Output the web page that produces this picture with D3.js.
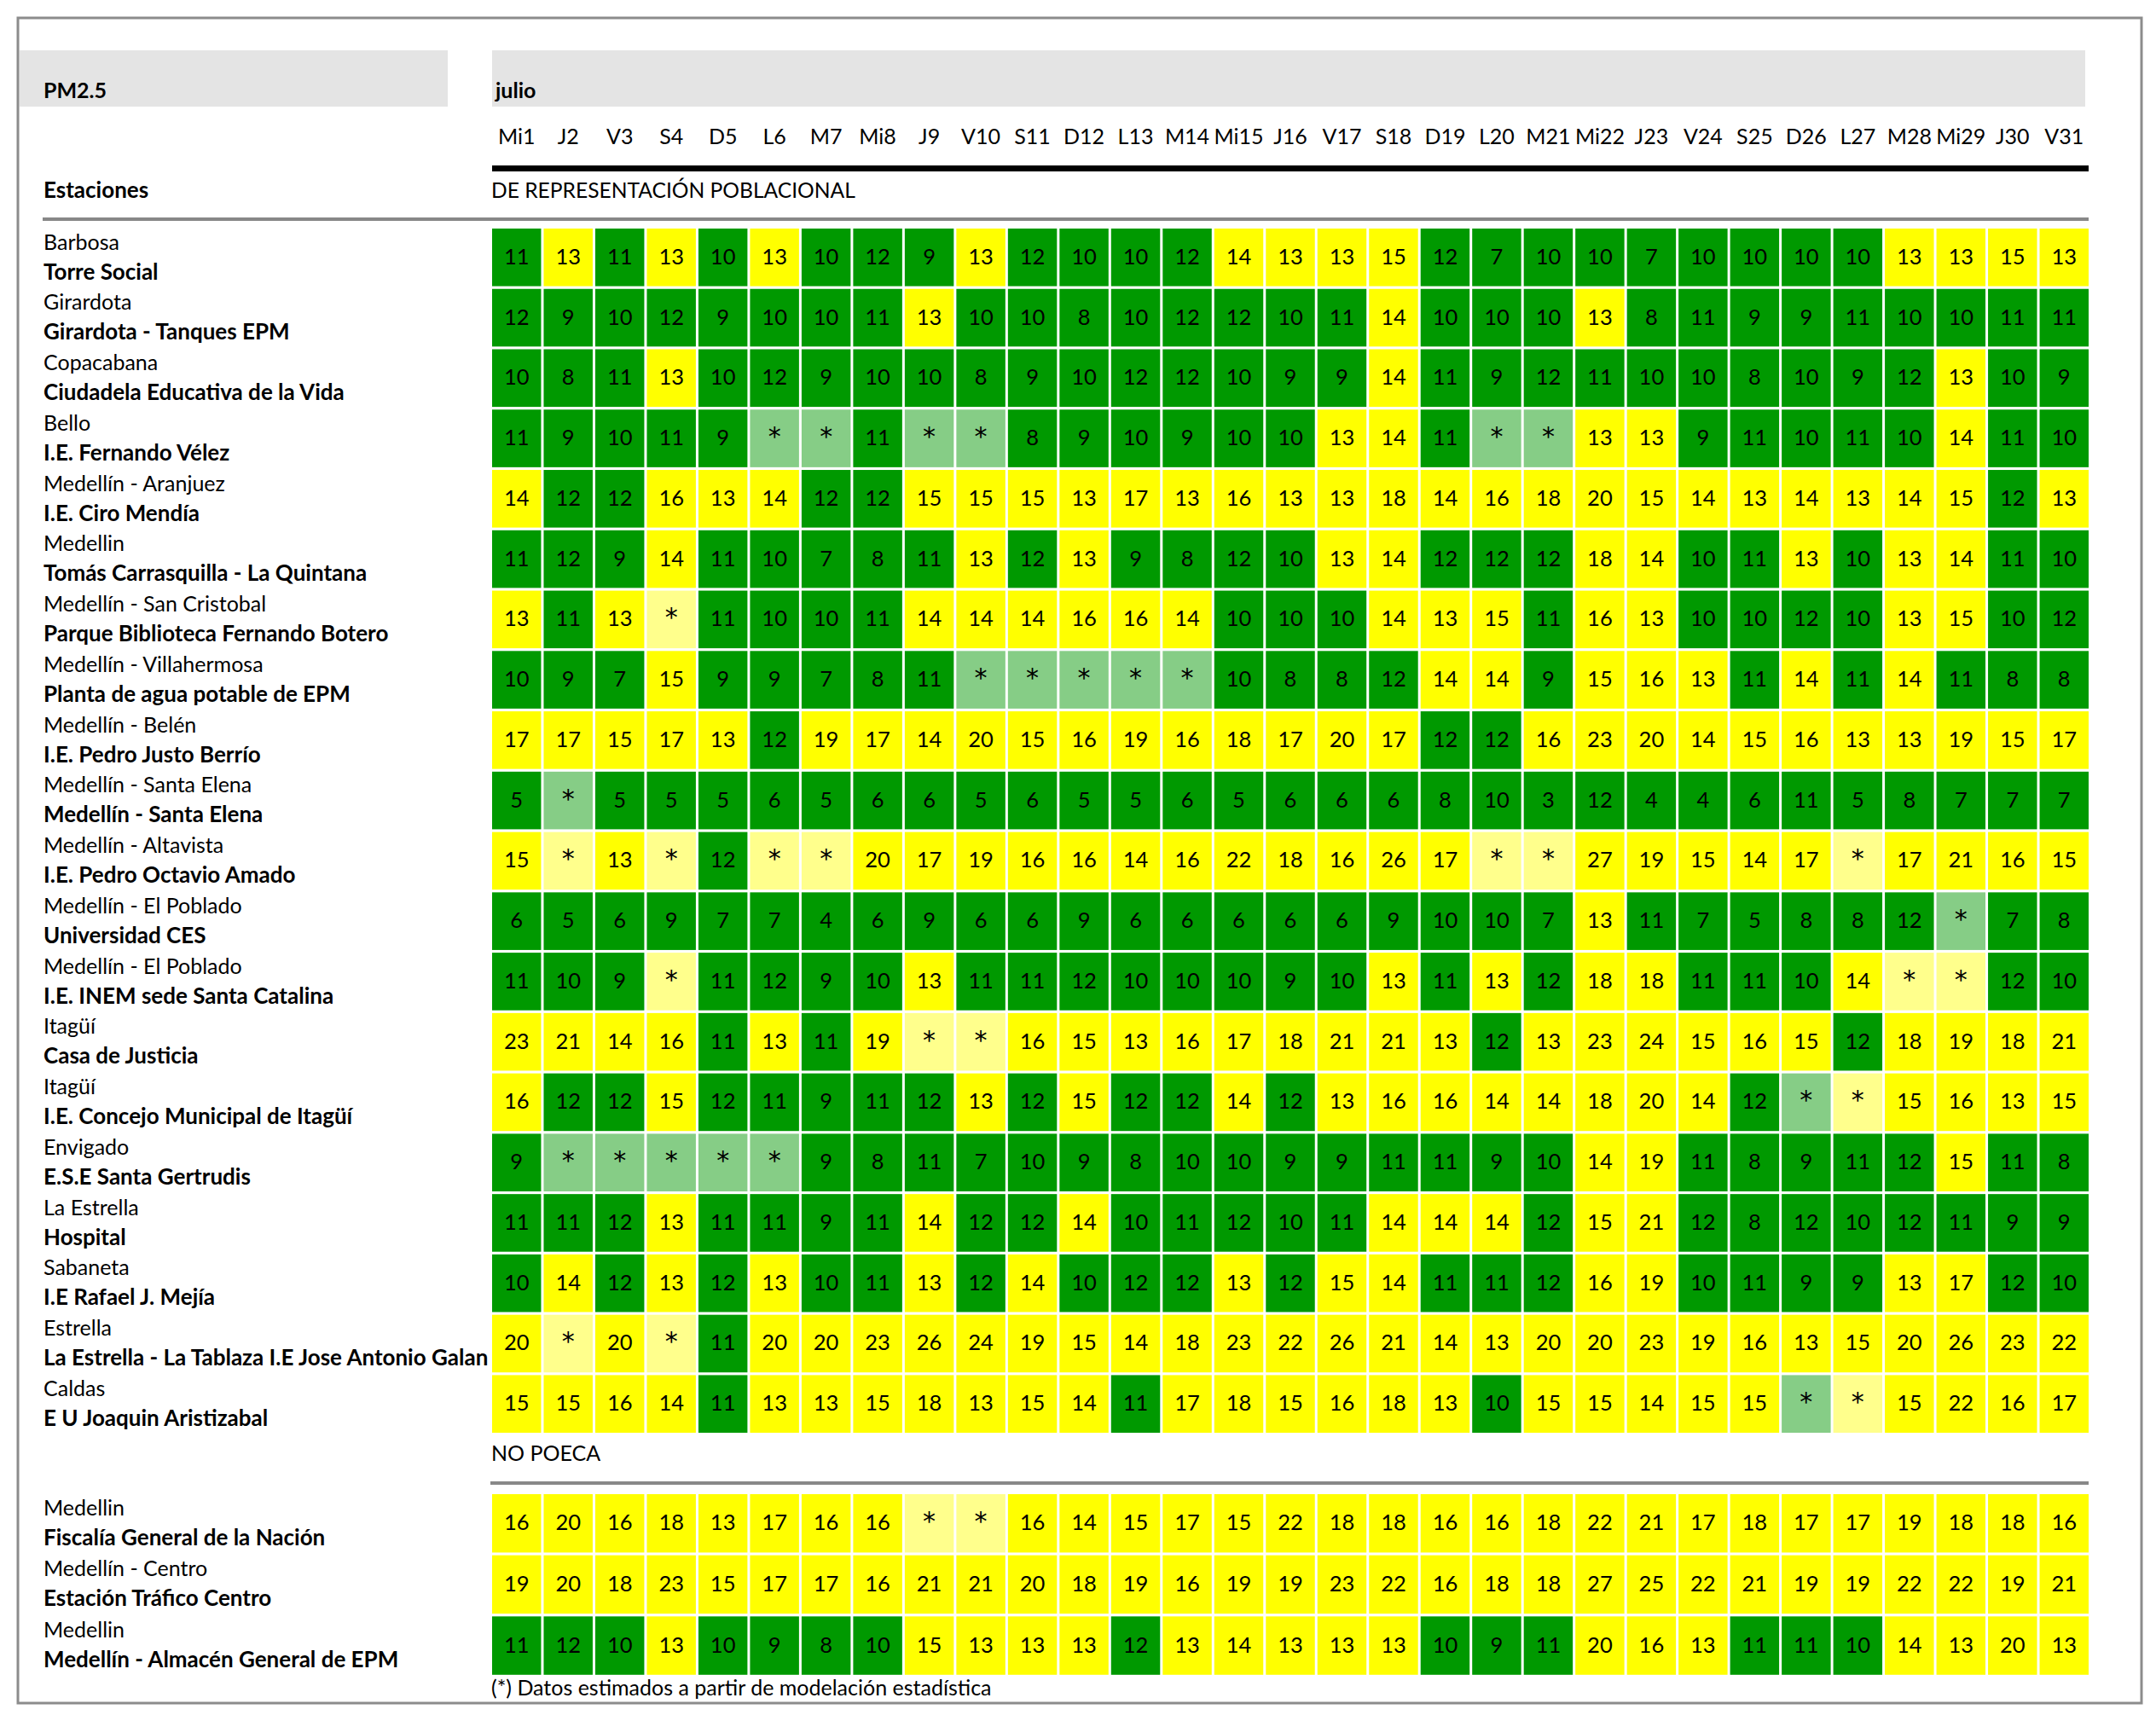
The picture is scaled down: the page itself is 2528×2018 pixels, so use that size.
<!DOCTYPE html>
<html lang="es">
<head>
<meta charset="UTF-8" />
<script src="https://cdn.jsdelivr.net/npm/d3@7/dist/d3.min.js"></script>
<title>PM2.5 julio</title>
<style>
  body { margin: 0; background: #fff; }
  text { font-family: Lato, "Noto Sans", sans-serif; fill: #000; }
</style>
</head>
<body>
<svg width="2528" height="2018"></svg>
<script>
  const days = ["Mi1","J2","V3","S4","D5","L6","M7","Mi8","J9","V10","S11","D12","L13","M14","Mi15","J16",
    "V17","S18","D19","L20","M21","Mi22","J23","V24","S25","D26","L27","M28","Mi29","J30","V31"];

  // estaciones de representacion poblacional
  const municipios = ["Barbosa","Girardota","Copacabana","Bello","Medellín - Aranjuez","Medellin",
    "Medellín - San Cristobal","Medellín - Villahermosa","Medellín - Belén","Medellín - Santa Elena",
    "Medellín - Altavista","Medellín - El Poblado","Medellín - El Poblado","Itagüí","Itagüí","Envigado",
    "La Estrella","Sabaneta","Estrella","Caldas"];
  const estaciones = ["Torre Social","Girardota - Tanques EPM","Ciudadela Educativa de la Vida",
    "I.E. Fernando Vélez","I.E. Ciro Mendía","Tomás Carrasquilla - La Quintana",
    "Parque Biblioteca Fernando Botero","Planta de agua potable de EPM","I.E. Pedro Justo Berrío",
    "Medellín - Santa Elena","I.E. Pedro Octavio Amado","Universidad CES","I.E. INEM sede Santa Catalina",
    "Casa de Justicia","I.E. Concejo Municipal de Itagüí","E.S.E Santa Gertrudis","Hospital",
    "I.E Rafael J. Mejía","La Estrella - La Tablaza I.E Jose Antonio Galan","E U Joaquin Aristizabal"];

  // "*v" = estimado (verde), "*a" = estimado (amarillo)
  const poblacional = [
    [11,13,11,13,10,13,10,12,9,13,12,10,10,12,14,13,13,15,12,7,10,10,7,10,10,10,10,13,13,15,13],
    [12,9,10,12,9,10,10,11,13,10,10,8,10,12,12,10,11,14,10,10,10,13,8,11,9,9,11,10,10,11,11],
    [10,8,11,13,10,12,9,10,10,8,9,10,12,12,10,9,9,14,11,9,12,11,10,10,8,10,9,12,13,10,9],
    [11,9,10,11,9,"*v","*v",11,"*v","*v",8,9,10,9,10,10,13,14,11,"*v","*v",13,13,9,11,10,11,10,14,11,10],
    [14,12,12,16,13,14,12,12,15,15,15,13,17,13,16,13,13,18,14,16,18,20,15,14,13,14,13,14,15,12,13],
    [11,12,9,14,11,10,7,8,11,13,12,13,9,8,12,10,13,14,12,12,12,18,14,10,11,13,10,13,14,11,10],
    [13,11,13,"*a",11,10,10,11,14,14,14,16,16,14,10,10,10,14,13,15,11,16,13,10,10,12,10,13,15,10,12],
    [10,9,7,15,9,9,7,8,11,"*v","*v","*v","*v","*v",10,8,8,12,14,14,9,15,16,13,11,14,11,14,11,8,8],
    [17,17,15,17,13,12,19,17,14,20,15,16,19,16,18,17,20,17,12,12,16,23,20,14,15,16,13,13,19,15,17],
    [5,"*v",5,5,5,6,5,6,6,5,6,5,5,6,5,6,6,6,8,10,3,12,4,4,6,11,5,8,7,7,7],
    [15,"*a",13,"*a",12,"*a","*a",20,17,19,16,16,14,16,22,18,16,26,17,"*a","*a",27,19,15,14,17,"*a",17,21,16,15],
    [6,5,6,9,7,7,4,6,9,6,6,9,6,6,6,6,6,9,10,10,7,13,11,7,5,8,8,12,"*v",7,8],
    [11,10,9,"*a",11,12,9,10,13,11,11,12,10,10,10,9,10,13,11,13,12,18,18,11,11,10,14,"*a","*a",12,10],
    [23,21,14,16,11,13,11,19,"*a","*a",16,15,13,16,17,18,21,21,13,12,13,23,24,15,16,15,12,18,19,18,21],
    [16,12,12,15,12,11,9,11,12,13,12,15,12,12,14,12,13,16,16,14,14,18,20,14,12,"*v","*a",15,16,13,15],
    [9,"*v","*v","*v","*v","*v",9,8,11,7,10,9,8,10,10,9,9,11,11,9,10,14,19,11,8,9,11,12,15,11,8],
    [11,11,12,13,11,11,9,11,14,12,12,14,10,11,12,10,11,14,14,14,12,15,21,12,8,12,10,12,11,9,9],
    [10,14,12,13,12,13,10,11,13,12,14,10,12,12,13,12,15,14,11,11,12,16,19,10,11,9,9,13,17,12,10],
    [20,"*a",20,"*a",11,20,20,23,26,24,19,15,14,18,23,22,26,21,14,13,20,20,23,19,16,13,15,20,26,23,22],
    [15,15,16,14,11,13,13,15,18,13,15,14,11,17,18,15,16,18,13,10,15,15,14,15,15,"*v","*a",15,22,16,17]
  ];

  // estaciones no POECA
  const municipios2 = ["Medellin","Medellín - Centro","Medellin"];
  const estaciones2 = ["Fiscalía General de la Nación","Estación Tráfico Centro","Medellín - Almacén General de EPM"];
  const noPoeca = [
    [16,20,16,18,13,17,16,16,"*a","*a",16,14,15,17,15,22,18,18,16,16,18,22,21,17,18,17,17,19,18,18,16],
    [19,20,18,23,15,17,17,16,21,21,20,18,19,16,19,19,23,22,16,18,18,27,25,22,21,19,19,22,22,19,21],
    [11,12,10,13,10,9,8,10,15,13,13,13,12,13,14,13,13,13,10,9,11,20,16,13,11,11,10,14,13,20,13]
  ];

  const svg = d3.select("svg");
  const gridLeft = 577, gridRight = 2449, rowStep = 70.6;

  const x = d3.scaleBand().domain(days).range([gridLeft, gridRight]).paddingInner(0.05).paddingOuter(0);

  const fillOf = (v) => {
    if (v === "*v") return "#86cd86";
    if (v === "*a") return "#ffff8c";
    return v <= 12 ? "#009900" : "#ffff00";
  };

  // marco exterior
  svg.append("rect").attr("x", 21).attr("y", 21).attr("width", 2490).attr("height", 1976)
    .attr("fill", "none").attr("stroke", "#8c8c8c").attr("stroke-width", 3);

  // encabezados grises
  svg.append("rect").attr("x", 23).attr("y", 59).attr("width", 502).attr("height", 66).attr("fill", "#e4e4e4");
  svg.append("rect").attr("x", gridLeft).attr("y", 59).attr("width", gridRight - gridLeft - 4).attr("height", 66).attr("fill", "#e4e4e4");
  svg.append("text").attr("x", 51).attr("y", 115).attr("font-size", 25).attr("font-weight", "bold").text("PM2.5");
  svg.append("text").attr("x", 581).attr("y", 115).attr("font-size", 25).attr("font-weight", "bold").text("julio");

  // dias
  svg.selectAll("text.day").data(days).join("text").attr("class", "day")
    .attr("x", (d) => x(d) + x.bandwidth() / 2).attr("y", 169)
    .attr("text-anchor", "middle").attr("font-size", 25).text((d) => d);

  svg.append("rect").attr("x", 577).attr("y", 194).attr("width", gridRight - 577).attr("height", 7).attr("fill", "#000");
  svg.append("text").attr("x", 51).attr("y", 232).attr("font-size", 26).attr("font-weight", "bold").text("Estaciones");
  svg.append("text").attr("x", 576).attr("y", 232).attr("font-size", 24.6).text("DE REPRESENTACIÓN POBLACIONAL");
  svg.append("rect").attr("x", 50).attr("y", 255).attr("width", gridRight - 50).attr("height", 4).attr("fill", "#888");

  const drawGroup = (top, towns, names, values) => {
    const y = d3.scaleBand().domain(d3.range(names.length))
      .range([top, top + rowStep * names.length]).paddingInner(0.045).paddingOuter(0);
    const g = svg.append("g");
    const rows = g.selectAll("g.row").data(values).join("g").attr("class", "row")
      .attr("transform", (d, i) => `translate(0,${y(i)})`);
    const cells = rows.selectAll("g.cell").data((d) => d.map((v, j) => ({ v, day: days[j] })))
      .join("g").attr("class", "cell");
    cells.append("rect")
      .attr("x", (d) => x(d.day)).attr("y", 0)
      .attr("width", x.bandwidth()).attr("height", y.bandwidth())
      .attr("fill", (d) => fillOf(d.v));
    cells.append("text")
      .attr("x", (d) => x(d.day) + x.bandwidth() / 2).attr("y", y.bandwidth() / 2 + 8)
      .attr("text-anchor", "middle")
      .attr("font-size", (d) => (typeof d.v === "string" ? 30 : 25.5))
      .style("font-family", (d) => (typeof d.v === "string" ? "'DejaVu Sans', sans-serif" : null))
      .text((d) => (typeof d.v === "string" ? "*" : d.v));

    g.selectAll("text.town").data(towns).join("text").attr("class", "town")
      .attr("x", 51).attr("y", (d, i) => y(i) + 24.5).attr("font-size", 25).text((d) => d);
    g.selectAll("text.name").data(names).join("text").attr("class", "name")
      .attr("x", 51).attr("y", (d, i) => y(i) + 59.5).attr("font-size", 26).attr("font-weight", "bold").text((d) => d);
  };

  drawGroup(268, municipios, estaciones, poblacional);

  svg.append("text").attr("x", 576).attr("y", 1713).attr("font-size", 25).text("NO POECA");
  svg.append("rect").attr("x", 575).attr("y", 1737).attr("width", gridRight - 575).attr("height", 4).attr("fill", "#888");

  drawGroup(1752, municipios2, estaciones2, noPoeca);

  svg.append("text").attr("x", 576).attr("y", 1988).attr("font-size", 25)
    .text("(*) Datos estimados a partir de modelación estadística");
</script>
</body>
</html>
